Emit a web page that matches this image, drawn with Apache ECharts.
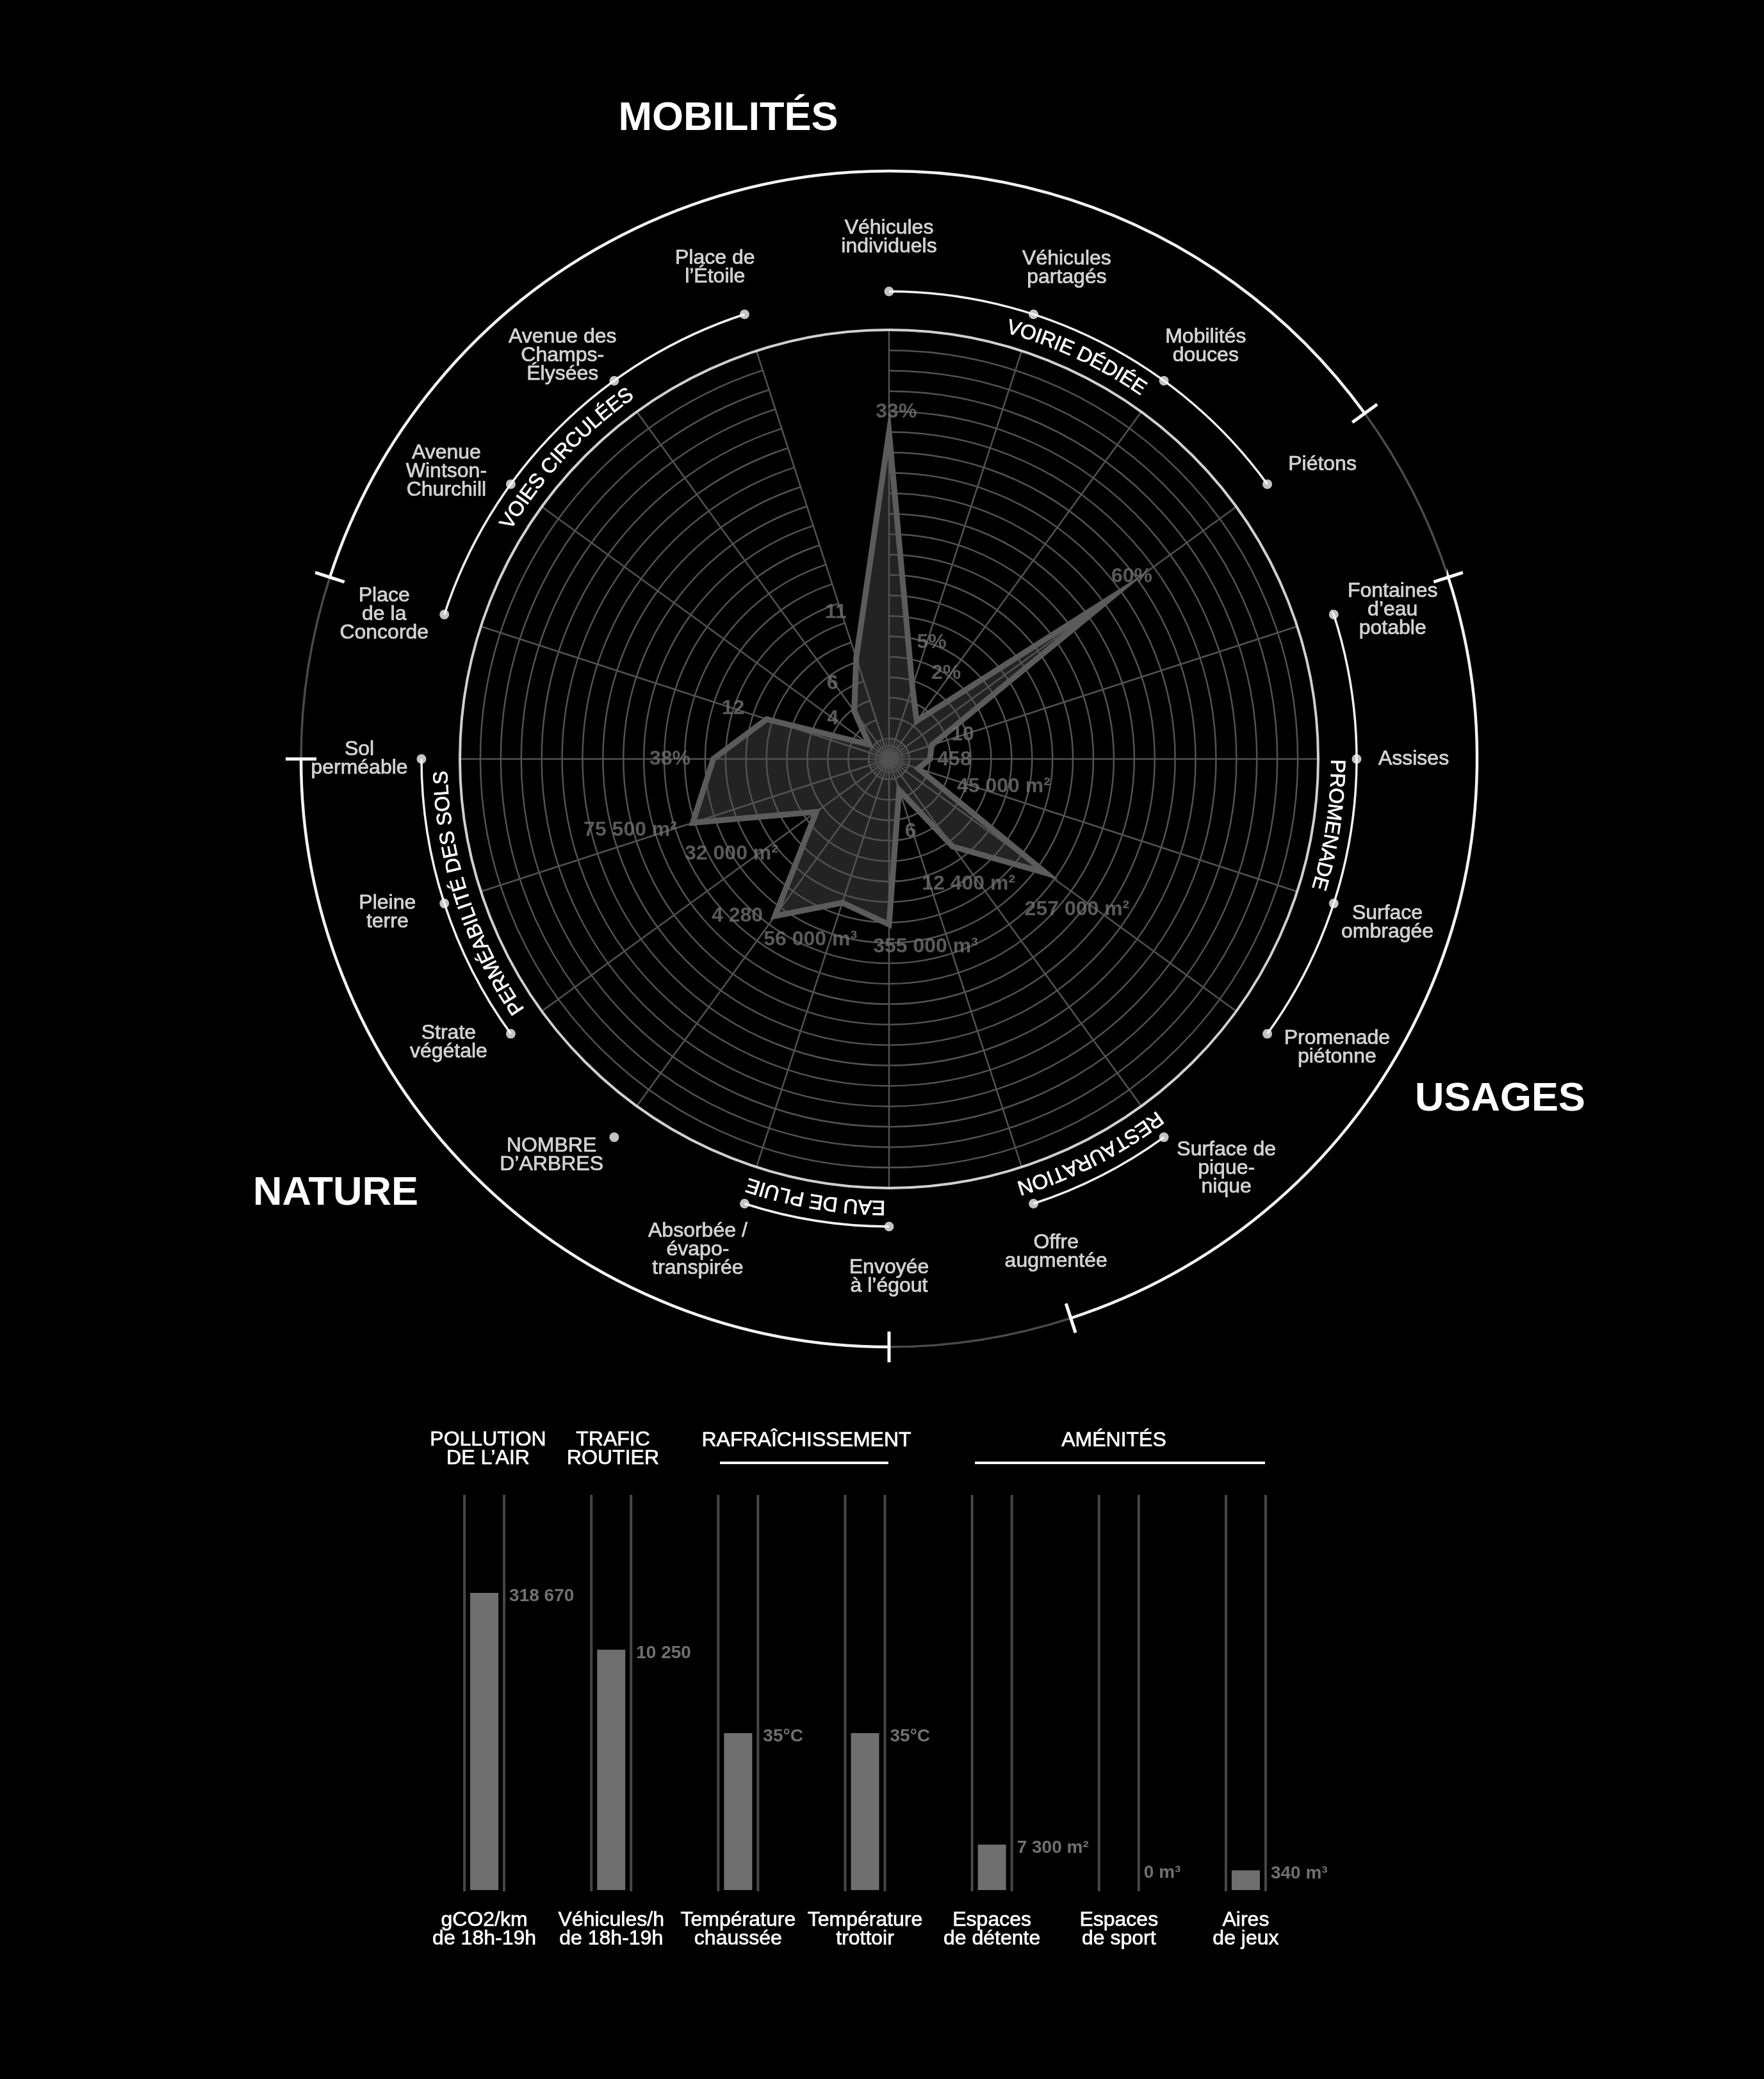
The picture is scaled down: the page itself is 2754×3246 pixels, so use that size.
<!DOCTYPE html>
<html><head><meta charset="utf-8">
<script src="https://cdn.jsdelivr.net/npm/echarts@6/dist/echarts.min.js"></script>
<style>html,body{margin:0;padding:0;background:#000;}#c{width:2754px;height:3246px;}</style>
</head><body><div id="c"></div>
<script>
// ---------- DATA ----------
const axisNames = [
 'Véhicules\nindividuels','Véhicules\npartagés','Mobilités\ndouces','Piétons',
 'Fontaines\nd’eau\npotable','Assises','Surface\nombragée','Promenade\npiétonne',
 'Surface de\npique-\nnique','Offre\naugmentée','Envoyée\nà l’égout','Absorbée /\névapo-\ntranspirée',
 'NOMBRE\nD’ARBRES','Strate\nvégétale','Pleine\nterre','Sol\nperméable',
 'Place\nde la\nConcorde','Avenue\nWintson-\nChurchill','Avenue des\nChamps-\nÉlysées','Place de\nl’Étoile'];
// radial position of each vertex, in grid-ring units (21 rings)
const axisValues = [16.0, 3.7, 2.3, 13.5, 2.2, 2.0, 1.5, 9.5, 5.3, 1.6, 8.1, 7.4, 9.5, 4.4, 10.1, 8.6, 6.3, 1.2, 2.9, 5.2];
const valueLabels = ['33%','5%','2%','60%','10','458','45 000 m²','257 000 m²','12 400 m²','6','355 000 m³','56 000 m³','4 280','32 000 m²','75 500 m²','38%','12','4','6','11'];
const groupNames = ['VOIRIE DÉDIÉE','PROMENADE','RESTAURATION','EAU DE PLUIE','PERMÉABILITÉ DES SOLS','VOIES CIRCULÉES'];
const groupSpans = [[0,3],[4,7],[8,9],[10,11],[13,15],[16,19]];
const sectorNames = ['MOBILITÉS','USAGES','NATURE'];
const sectorSpans = [[16,3],[4,9],[10,15]];
const barHeaders = ['POLLUTION\nDE L’AIR','TRAFIC\nROUTIER','RAFRAÎCHISSEMENT','AMÉNITÉS'];
const barCategories = ['gCO2/km\nde 18h-19h','Véhicules/h\nde 18h-19h','Température\nchaussée','Température\ntrottoir','Espaces\nde détente','Espaces\nde sport','Aires\nde jeux'];
const barHeights = [75.2, 60.8, 39.7, 39.7, 11.5, 0, 5.0];
const barValueLabels = ['318 670','10 250','35°C','35°C','7 300 m²','0 m³','340 m³'];

// ---------- LAYOUT ----------
const CX = 1388, CY = 1185;
const R_GRID = 670, R_GROUP = 730, R_TXT = 699, R_OUTER = 918;
const STEP = 18;
const axisLabelPos = [[814,0],[815,19.9],[812,37.5],[818,55.8],[820,73.5],[819,90],[819,108.2],[832,122.8],[828,140.5],[813,161.3],[809,180],[822,201.3],[813,220.4],[818,237.2],[819,253],[827,270],[820,286],[824,303],[810,321],[814,340.5]];
const valueLabelPos = [[542,1.2],[194,20.1],[161,33.6],[474,53.1],[121,72],[102,90.6],[184,103.5],[376,128.7],[231,147.5],[118,163.4],[299,169],[308,203.5],[341,224],[287,239],[419,254.6],[342,270],[256,288],[108,305.6],[147,323],[243,340]];
const groupLabelAngles = [25, 98.5, 153, 189.5, 252, 313];
const sectorTitlePos = [[1137,186],[2342,1717],[524,1864]];
const headerPos = [[762,2263],[957,2263],[1259,2249],[1739,2249]];
const headerLines = [null, null, [1124,1387], [1522,1975]];
const FONT = '"Liberation Sans", Arial, sans-serif';
const WHITE_TXT = { color: '#fff', textBorderColor: '#fff', textBorderWidth: 0.7 };

const rad = d => d * Math.PI / 180;
const pt = (r, deg) => [CX + r * Math.sin(rad(deg)), CY - r * Math.cos(rad(deg))];

const mctx = document.createElement('canvas').getContext('2d');
function curvedText(text, centerDeg, r, fontSize) {
  mctx.font = fontSize + 'px "Liberation Sans"';
  const chars = Array.from(text);
  const widths = chars.map(ch => mctx.measureText(ch).width);
  const total = widths.reduce((a, b) => a + b, 0);
  let acc = -total / 2;
  return chars.map((ch, k) => {
    const mid = acc + widths[k] / 2; acc += widths[k];
    const th = rad(centerDeg) + mid / r;
    return { type: 'text', x: CX + r * Math.sin(th), y: CY - r * Math.cos(th), rotation: -th, z: 20,
      style: { text: ch, fill: '#fff', stroke: '#fff', lineWidth: 0.7, fontSize: fontSize, fontFamily: FONT, align: 'center', verticalAlign: 'middle' } };
  });
}
function arc(r, d1, d2, color, width) {
  return { type: 'arc', z: 15, shape: { cx: CX, cy: CY, r: r, startAngle: rad(d1 - 90), endAngle: rad(d2 - 90), clockwise: true },
    style: { stroke: color, lineWidth: width, fill: null } };
}

const graphics = [];
graphics.push({ type: 'circle', z: 14, shape: { cx: CX, cy: CY, r: R_GRID }, style: { fill: null, stroke: '#d0d0d0', lineWidth: 4 } });
sectorSpans.forEach((s, k) => {
  let a1 = s[0] * STEP, a2 = s[1] * STEP; if (a2 < a1) a2 += 360;
  graphics.push(arc(R_OUTER, a1, a2, '#f2f2f2', 4.5));
  const next = sectorSpans[(k + 1) % 3];
  let b2 = next[0] * STEP; if (b2 < a2) b2 += 360;
  graphics.push(arc(R_OUTER, a2, b2, '#4a4a4a', 3.5));
  [a1, a2].forEach(a => {
    const p1 = pt(R_OUTER - 24, a), p2 = pt(R_OUTER + 24, a);
    graphics.push({ type: 'line', z: 16, shape: { x1: p1[0], y1: p1[1], x2: p2[0], y2: p2[1] }, style: { stroke: '#fff', lineWidth: 5 } });
  });
  graphics.push({ type: 'text', x: sectorTitlePos[k][0], y: sectorTitlePos[k][1], z: 20,
    style: { text: sectorNames[k], fill: '#fff', fontSize: 63, fontWeight: 'bold', fontFamily: FONT, align: 'center', verticalAlign: 'middle' } });
});
groupSpans.forEach((s, k) => {
  graphics.push(arc(R_GROUP, s[0] * STEP, s[1] * STEP, '#f2f2f2', 3.5));
  curvedText(groupNames[k], groupLabelAngles[k], R_TXT, 32).forEach(e => graphics.push(e));
});
barHeaders.forEach((h, k) => {
  graphics.push({ type: 'text', x: headerPos[k][0], y: headerPos[k][1], z: 20,
    style: { text: h, fill: '#fff', stroke: '#fff', lineWidth: 0.7, fontSize: 32, lineHeight: 29, fontFamily: FONT, align: 'center', verticalAlign: 'middle' } });
  if (headerLines[k]) graphics.push({ type: 'line', z: 20, shape: { x1: headerLines[k][0], y1: 2284, x2: headerLines[k][1], y2: 2284 }, style: { stroke: '#fff', lineWidth: 4 } });
});

const hidden = { axisLine: { show: false }, axisTick: { show: false }, axisLabel: { show: false }, splitLine: { show: false } };
const gridLine = { show: true, lineStyle: { color: '#525252', width: 2.5 } };

const chart = echarts.init(document.getElementById('c'), null, { renderer: 'canvas' });
chart.setOption({
  backgroundColor: '#000',
  animation: false,
  textStyle: { fontFamily: FONT },
  polar: [
    { center: [CX, CY], radius: R_GRID },
    { center: [CX, CY], radius: R_OUTER },
    { center: [CX, CY], radius: 32 }
  ],
  angleAxis: [
    { polarIndex: 0, type: 'category', data: axisNames, startAngle: 90, clockwise: true, boundaryGap: false,
      axisLine: { show: false }, axisTick: { show: false }, axisLabel: { show: false }, splitLine: gridLine },
    Object.assign({ polarIndex: 1, type: 'value', min: 0, max: 360, startAngle: 90, clockwise: true }, hidden),
    { polarIndex: 2, type: 'value', min: 0, max: 360, interval: 9, startAngle: 90, clockwise: true,
      axisLine: { show: false }, axisTick: { show: false }, axisLabel: { show: false }, splitLine: { show: true, lineStyle: { color: '#525252', width: 1.5 } } }
  ],
  radiusAxis: [
    { polarIndex: 0, type: 'value', min: 0, max: 21, interval: 1, axisLine: { show: false }, axisTick: { show: false }, axisLabel: { show: false }, splitLine: gridLine },
    Object.assign({ polarIndex: 1, type: 'value', min: 0, max: R_OUTER }, hidden),
    { polarIndex: 2, type: 'value', min: 0, max: 3, interval: 1, axisLine: { show: false }, axisTick: { show: false }, axisLabel: { show: false }, splitLine: { show: true, lineStyle: { color: '#525252', width: 1.5 } } }
  ],
  grid: { left: 657, top: 2334, width: 1387, height: 617 },
  xAxis: { type: 'category', data: barCategories, axisLine: { show: false }, axisTick: { show: false }, splitLine: { show: false },
    axisLabel: Object.assign({ interval: 0, fontSize: 32, lineHeight: 29, margin: 33, fontFamily: FONT }, WHITE_TXT) },
  yAxis: { type: 'value', min: 0, max: 100, show: false, splitLine: { show: false } },
  graphic: graphics,
  series: [
    { type: 'custom', coordinateSystem: 'polar', polarIndex: 0, z: -1, silent: true,
      data: axisValues.map((v, i) => [v, i]),
      renderItem: (params, api) => {
        if (params.dataIndex !== 0) return null;
        return { type: 'polygon', shape: { points: axisValues.map((v, i) => api.coord([v, i])) }, style: { fill: '#232323' } };
      } },
    { type: 'custom', coordinateSystem: 'polar', polarIndex: 0, z: 5, silent: true,
      data: axisValues.map((v, i) => [v, i]),
      renderItem: (params, api) => {
        if (params.dataIndex !== 0) return null;
        return { type: 'polygon', shape: { points: axisValues.map((v, i) => api.coord([v, i])) },
          style: { fill: null, stroke: '#5b5b5b', lineWidth: 9, lineJoin: 'miter', miterLimit: 30 } };
      } },
    { type: 'scatter', coordinateSystem: 'polar', polarIndex: 1, z: 18, symbol: 'circle', symbolSize: 15, silent: true,
      itemStyle: { color: '#f4f4f4' },
      data: axisNames.map((n, i) => [R_GROUP, i * STEP]) },
    { type: 'scatter', coordinateSystem: 'polar', polarIndex: 1, z: 18, symbolSize: 1, silent: true,
      itemStyle: { color: 'rgba(0,0,0,0)' },
      label: Object.assign({ show: true, position: 'inside', fontSize: 32, lineHeight: 29, fontFamily: FONT, align: 'center', verticalAlign: 'middle',
        formatter: p => axisNames[p.dataIndex] }, WHITE_TXT),
      data: axisLabelPos.map(p => [p[0], p[1]]) },
    { type: 'scatter', coordinateSystem: 'polar', polarIndex: 1, z: 18, symbolSize: 1, silent: true,
      itemStyle: { color: 'rgba(0,0,0,0)' },
      label: { show: true, position: 'inside', color: '#707070', fontSize: 32, fontWeight: 'bold', fontFamily: FONT, align: 'center', verticalAlign: 'middle',
        formatter: p => valueLabels[p.dataIndex] },
      data: valueLabelPos.map(p => [p[0], p[1]]) },
    { type: 'custom', coordinateSystem: 'cartesian2d', silent: true, z: 1,
      data: barCategories.map((c, i) => [i, 100]),
      renderItem: (params, api) => {
        const b = api.coord([api.value(0), 0]), t = api.coord([api.value(0), api.value(1)]);
        return { type: 'group', children: [-31, 31].map(dx => ({ type: 'line',
          shape: { x1: b[0] + dx, y1: b[1] + 2, x2: b[0] + dx, y2: t[1] }, style: { stroke: '#474747', lineWidth: 4 } })) };
      } },
    { type: 'bar', barWidth: 44, z: 3, silent: true, itemStyle: { color: '#6f6f6f' },
      label: { show: true, position: 'top', distance: 0, align: 'left', verticalAlign: 'middle', offset: [39, 5],
        color: '#707070', fontSize: 28, fontWeight: 'bold', fontFamily: FONT, formatter: p => barValueLabels[p.dataIndex] },
      data: barHeights.map(h => h === 0 ? { value: h, label: { offset: [39, -27] } } : h) }
  ]
});
</script></body></html>
